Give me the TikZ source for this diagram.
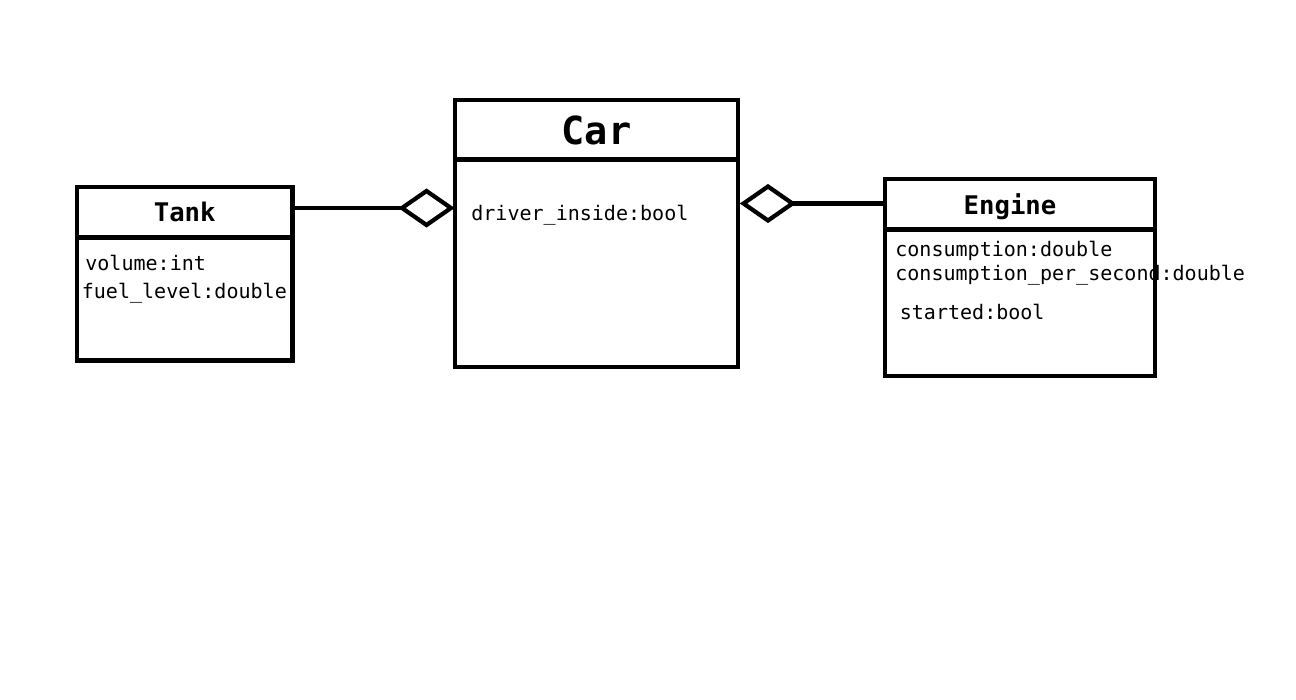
\documentclass[tikz,border=0pt]{standalone}
\usepackage{fontspec}
\setmonofont{DejaVu Sans Mono}
\usepackage{tikz}
\usetikzlibrary{shapes.geometric}
\tikzset{every picture/.style={x=0.02cm,y=-0.02cm}}
\tikzstyle{classhead}=[rectangle,draw=black,line width=2.4pt,inner sep=0pt,outer sep=0pt,text depth=0pt,font=\fontsize{14.6}{16}\ttfamily\bfseries]
\tikzstyle{classbody}=[rectangle,draw=black,line width=2.4pt,inner sep=0pt,outer sep=0pt,anchor=north]
\tikzstyle{attr}=[anchor=base west,inner sep=0pt,font=\fontsize{11.4}{13}\ttfamily]
\tikzstyle{aggr}=[diamond,draw=black,line width=2.4pt,fill=white,inner sep=0pt,outer sep=0pt,minimum width=0.98cm,minimum height=0.68cm]
\tikzstyle{link}=[draw,line width=2.4pt]

\begin{document}
\begin{tikzpicture}
	\useasboundingbox (0,0) rectangle (1296,700);

	% Tank
	\node at (184.75,212.25) [classhead,minimum width=4.31cm,minimum height=1.01cm] (tankhead) {Tank};
	\node at (tankhead.south) [classbody,minimum width=4.31cm,minimum height=2.46cm] (tankbody) {};
	\node at (85,270) [attr] (volume) {volume:int};
	\node at (81.5,298) [attr] (fuel) {fuel\_level:double};

	% Car
	\node at (596.5,129.75) [classhead,minimum width=5.66cm,minimum height=1.19cm,font=\fontsize{22}{24}\ttfamily\bfseries] (carhead) {Car};
	\node at (carhead.south) [classbody,minimum width=5.66cm,minimum height=4.15cm] (carbody) {};
	\node at (471,220.5) [attr] (driver) {driver\_inside:bool};

	% Engine
	\node at (1020,204.25) [classhead,minimum width=5.4cm,minimum height=1.01cm] (enginehead) {\hspace{-0.4cm}Engine};
	\node at (enginehead.south) [classbody,minimum width=5.4cm,minimum height=2.93cm] (enginebody) {};
	\node at (895,256) [attr] (cons) {consumption:double};
	\node at (895,280) [attr] (consps) {consumption\_per\_second:double};
	\node at (899.5,319) [attr] (started) {started:bool};

	% aggregations
	\node at (426.5,208) [aggr] (tankagg) {};
	\node at (768,203.5) [aggr] (engineagg) {};

	\draw[link] (tankhead.east |- tankagg.west) -- (tankagg.west);
	\draw[link] (engineagg.east) -- (enginehead.west |- engineagg.east);
\end{tikzpicture}
\end{document}
